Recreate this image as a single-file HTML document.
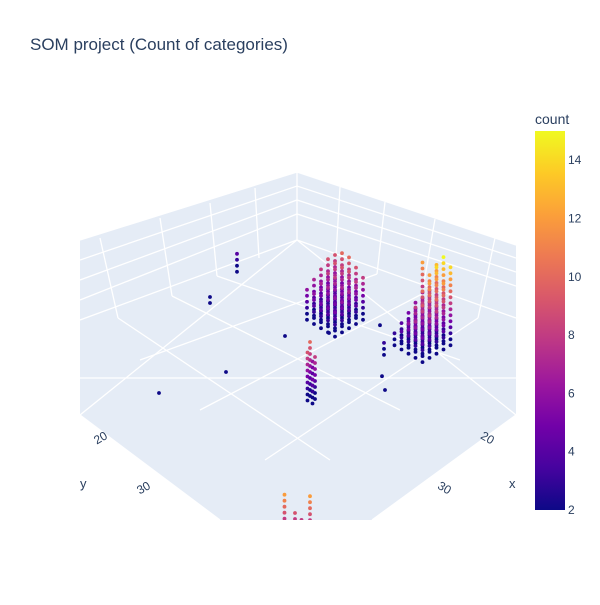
<!DOCTYPE html>
<html><head><meta charset="utf-8"><style>
body{margin:0;background:#fff;font-family:"Liberation Sans",Arial,sans-serif}
svg text{font-family:"Liberation Sans",Arial,sans-serif}
</style></head><body>
<svg id="chart" width="600" height="600">
<defs>
<clipPath id="sc"><rect x="80" y="60" width="436" height="460"/></clipPath>
<linearGradient id="cb" x1="0" y1="1" x2="0" y2="0">
<stop offset="0" stop-color="#0d0887"/><stop offset=".111" stop-color="#46039f"/><stop offset=".222" stop-color="#7201a8"/><stop offset=".333" stop-color="#9c179e"/><stop offset=".444" stop-color="#bd3786"/><stop offset=".556" stop-color="#d8576b"/><stop offset=".667" stop-color="#ed7953"/><stop offset=".778" stop-color="#fb9f3a"/><stop offset=".889" stop-color="#fdca26"/><stop offset="1" stop-color="#f0f921"/>
</linearGradient></defs>
<text x="30" y="50" font-size="17" fill="#2a3f5f">SOM project (Count of categories)</text>
<g clip-path="url(#sc)">
<polygon points="80,240 297,172 516,245 516,415 372,520 220,520 80,415" fill="#e5ecf6"/>
<g stroke="#fff" stroke-width="1.3" fill="none">
<path d="M297,172V240M80,240L297,172L516,245M80,320L297,240L516,318M297,240L80,415M297,240L516,415"/>
<path d="M80,260L297,186L516,258M80,280L297,200L516,272M80,300L297,214L516,286"/>
<path d="M100,238L118,318M160,218L172,296M210,203L217,276M255,188L259,258M340,187L336,256M385,202L377,274M435,219L422,294M495,238L478,318"/>
<path d="M118,318L330,460M172,296L400,410M217,276L460,360M478,318L265,460M422,294L200,410M377,274L140,360"/>
<path d="M80,378L516,378M80,415L220,520M516,415L372,520"/>
</g>
<g id="pts"></g>
</g>
<g font-size="12" fill="#2a3f5f">
<text x="100" y="442" transform="rotate(-30 100 437)" text-anchor="middle">20</text>
<text x="143" y="492" transform="rotate(-30 143 487)" text-anchor="middle">30</text>
<text x="80" y="488" font-size="13">y</text>
<text x="488" y="442" transform="rotate(30 488 437)" text-anchor="middle">20</text>
<text x="445" y="492" transform="rotate(30 445 487)" text-anchor="middle">30</text>
<text x="509" y="488" font-size="13">x</text>
</g>
<g>
<text x="535" y="124" font-size="14" fill="#2a3f5f">count</text>
<rect x="535" y="131" width="30" height="379" fill="url(#cb)"/>
<g id="cbt" font-size="12" fill="#2a3f5f"></g>
</g>
</svg>
<script>
// cell floor coordinates and counts
const cellX=[12.6,20.5,40.6,30.4,18.5,13.6,7.2,15.5,17.5,11.75,26,27,26,25,27,56,53.7,55,54.5];
const cellY=[0,2.5,12.4,15.6,15.5,19.4,23.2,31.9,34.5,28.55,28,28.5,29,27.5,29.5,52.9,55.7,54,54.8];
const cellCount=[4,2,1,1,1,1,1,1,1,3,10,9,8,6,5,12,12,9,8];
// left block
const blockAX=[8,9.4,10.8,12.2,13.6];
const blockAY=[15,16.4,17.8,19.2,20.6];
const blockACounts=[[9,10,10,9,8],[9,9,9,9,8],[8,8,8,7,7],[7,7,7,6,6],[6,6,5,5,5]];
// right block
const blockBX=[3.5,4.9,6.3,7.7,9.1];
const blockBY=[28,29.4,30.8,32.2,33.6];
const blockBCounts=[[12,8,13,15,14],[6,7,12,14,12],[5,6,10,12,10],[4,5,8,9,8],[3,4,6,7,5]];
const colorTicks=[2,4,6,8,10,12,14];
const cmin=2,cmax=15;
const stops=["#0d0887","#46039f","#7201a8","#9c179e","#bd3786","#d8576b","#ed7953","#fb9f3a","#fdca26","#f0f921"];
function hex(h){return [1,3,5].map(i=>parseInt(h.substr(i,2),16));}
function color(v){let t=Math.max(0,Math.min(1,(v-cmin)/(cmax-cmin)))*(stops.length-1);let i=Math.min(stops.length-2,Math.floor(t)),f=t-i;const a=hex(stops[i]),b=hex(stops[i+1]);return "rgb("+a.map((c,k)=>Math.round(c+(b[k]-c)*f)).join(",")+")";}
function px(x,y){return 300+(y-x)*5;}
function py(x,y,z){return 240+(x+y)*3-z*6;}
const cells=[];
cellX.forEach((x,i)=>cells.push([x,cellY[i],cellCount[i]]));
blockAX.forEach((x,i)=>blockAY.forEach((y,j)=>cells.push([x,y,blockACounts[i][j]])));
blockBX.forEach((x,i)=>blockBY.forEach((y,j)=>cells.push([x,y,blockBCounts[i][j]])));
const pts=[];
cells.forEach(c=>{for(let z=1;z<=c[2];z++)pts.push([c[0],c[1],z]);});
pts.sort((a,b)=>(a[0]+a[1])-(b[0]+b[1]));
const g=document.getElementById('pts');
const NS="http://www.w3.org/2000/svg";
pts.forEach(p=>{const e=document.createElementNS(NS,'circle');
e.setAttribute('cx',px(p[0],p[1]));e.setAttribute('cy',py(p[0],p[1],p[2]));e.setAttribute('r',1.9);e.setAttribute('fill',color(Math.max(2,p[2])));


g.appendChild(e);});
const cb=document.getElementById('cbt');
colorTicks.forEach(v=>{const t=document.createElementNS(NS,'text');t.setAttribute('x',568);t.setAttribute('y',510-(v-cmin)/(cmax-cmin)*379+4);t.textContent=v;


cb.appendChild(t);});
</script>
</body></html>
